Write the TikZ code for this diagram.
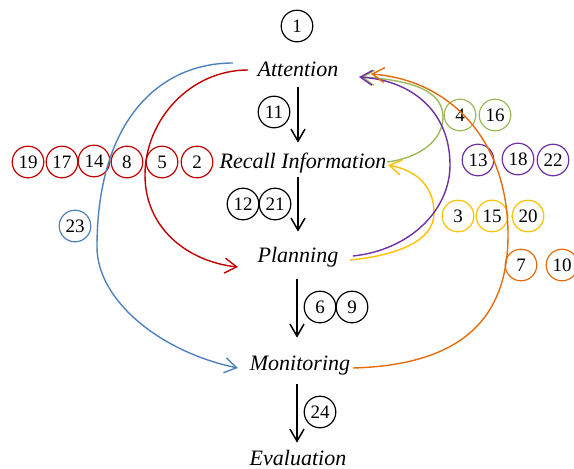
\documentclass[tikz,border=0pt]{standalone}
\usepackage{fontspec}
\setmainfont{Liberation Serif}
\usetikzlibrary{arrows.meta}
\definecolor{cred}{HTML}{C00000}
\definecolor{cblue}{HTML}{4F81BD}
\definecolor{cgreen}{HTML}{9BBB59}
\definecolor{cpurple}{HTML}{7030A0}
\definecolor{cyellow}{HTML}{FFC000}
\definecolor{corange}{HTML}{E46C0A}
\begin{document}
\begin{tikzpicture}[x=0.5pt,y=-0.5pt,
  lab/.style={font=\fontsize{11}{13}\selectfont\itshape, inner sep=0pt, anchor=base, text height=8pt, text depth=2.5pt},
  num/.style={circle, draw=#1, line width=0.6pt, minimum size=15.8pt, inner sep=0pt, font=\fontsize{9.5}{11}\selectfont},
  num/.default=black,
  blk/.style={draw=black, line width=0.75pt, -{Straight Barb[length=6pt,width=7pt]}},
  crv/.style={draw=#1, line width=0.7pt, -{Straight Barb[length=6pt,width=7.5pt]}},
]
\useasboundingbox (0,0) rectangle (574,468);

% main labels
\node[lab] (att) at (298,76) {Attention};
\node[lab] (rec) at (303,168) {Recall Information};
\node[lab] (pla) at (298,262) {Planning};
\node[lab] (mon) at (300,370) {Monitoring};
\node[lab] (eva) at (298,465) {Evaluation};

% black arrows
\draw[blk, shorten <=3pt, shorten >=4.5pt] ([xshift=0pt]att.south) -- (att.south |- rec.north);
\draw[blk, shorten <=2pt, shorten >=7pt] ([xshift=-2.5pt]rec.south) -- ([xshift=-2.5pt]rec.south |- pla.north);
\draw[blk, shorten <=6pt, shorten >=8pt] ([xshift=-0.5pt]pla.south) -- ([xshift=-0.5pt]pla.south |- mon.north);
\draw[blk, shorten <=4.5pt, shorten >=3pt] ([xshift=-1.5pt]mon.south) -- ([xshift=-1.5pt]mon.south |- eva.north);

% black circles
\node[num] (n1) at (297,26) {1};
\node[num] (n11) at (274,112) {11};
\node[num] (n12) at (243,204) {12};
\node[num] (n21) at (275,204) {21};
\node[num] (n6) at (320,307) {6};
\node[num] (n9) at (352,307) {9};
\node[num] (n24) at (320,412) {24};

% red circles
\node[num=cred] (n19) at (28,162) {19};
\node[num=cred] (n17) at (62,162) {17};
\node[num=cred] (n14) at (94,161) {14};
\node[num=cred] (n8) at (127,162) {8};
\node[num=cred] (n5) at (162,162) {5};
\node[num=cred] (n2) at (197,162) {2};
% blue
\node[num=cblue] (n23) at (75,226) {23};
% green
\node[num=cgreen] (n4) at (460,115) {4};
\node[num=cgreen] (n16) at (495,115) {16};
% purple
\node[num=cpurple] (n13) at (478,160) {13};
\node[num=cpurple] (n18) at (518,159) {18};
\node[num=cpurple] (n22) at (553,160) {22};
% yellow
\node[num=cyellow] (n3) at (458,216) {3};
\node[num=cyellow] (n15) at (492,216) {15};
\node[num=cyellow] (n20) at (528,216) {20};
% orange
\node[num=corange] (n7) at (521,265) {7};
\node[num=corange] (n10) at (562,265) {10};

% curve end points
\coordinate (bA) at (233,63);
\coordinate (bB) at (238,368);
\coordinate (rA) at (248,70);
\coordinate (rB) at (238,267);
\coordinate (gA) at (387,162);
\coordinate (gB) at (361,77);
\coordinate (pA) at (353,256);
\coordinate (pB) at (359,77);
\coordinate (yA) at (350,260);
\coordinate (yB) at (388,165);
\coordinate (oA) at (353,368);
\coordinate (oB) at (371,74);

% curves
\draw[crv=cblue] (bA) .. controls (158,63) and (97,122) .. (97,247)
  .. controls (97,300) and (160,352) .. (bB);
\draw[crv=cred] (rA) .. controls (190,70) and (145,120) .. (145,175)
  .. controls (145,230) and (190,262) .. (rB);
\draw[crv=cgreen] (gA) .. controls (420,158) and (443,140) .. (443,117)
  .. controls (443,90) and (410,80) .. (gB);
\draw[crv=cyellow] (yA) .. controls (400,255) and (434,240) .. (434,213)
  .. controls (434,185) and (415,170) .. (yB);
\draw[crv=cpurple] (pA) .. controls (410,250) and (450,210) .. (450,165)
  .. controls (450,110) and (410,80) .. (pB);
\draw[crv=corange] (oA) .. controls (460,365) and (508,320) .. (508,235)
  .. controls (508,140) and (450,80) .. (oB);
\end{tikzpicture}
\end{document}
